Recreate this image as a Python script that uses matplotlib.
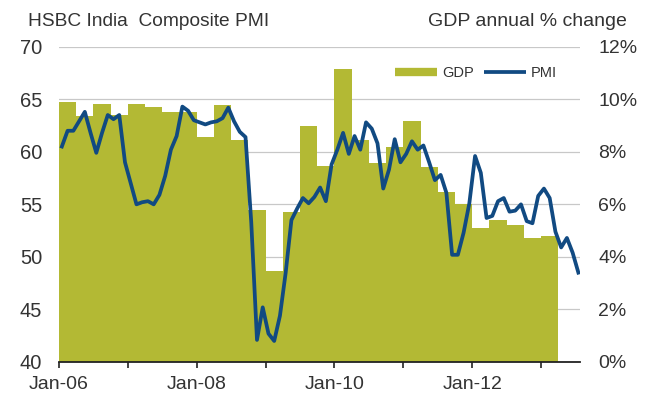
import numpy as np
import matplotlib
matplotlib.use("Agg")
import matplotlib.pyplot as plt
from matplotlib.lines import Line2D

plt.rcParams['font.family'] = ['Liberation Sans', 'DejaVu Sans']

# quarterly GDP growth, 2006Q1 .. 2013Q1 (%)
gdp_quarters = ["2006Q1", "2006Q2", "2006Q3", "2006Q4", "2007Q1", "2007Q2", "2007Q3", "2007Q4",
                "2008Q1", "2008Q2", "2008Q3", "2008Q4", "2009Q1", "2009Q2", "2009Q3", "2009Q4",
                "2010Q1", "2010Q2", "2010Q3", "2010Q4", "2011Q1", "2011Q2", "2011Q3", "2011Q4",
                "2012Q1", "2012Q2", "2012Q3", "2012Q4", "2013Q1"]
gdp_values = [9.9, 9.35, 9.8, 9.4, 9.8, 9.7, 9.5, 9.5,
              8.55, 9.78, 8.45, 5.77, 3.47, 5.71, 8.97, 7.45,
              11.15, 8.45, 7.57, 8.2, 9.17, 7.44, 6.47, 6.0,
              5.1, 5.4, 5.2, 4.7, 4.8]

# monthly composite PMI, Jan-06 .. Jul-13
pmi_values = [60.5, 62.0, 62.0, 62.9, 63.8, 61.8, 59.9, 61.8, 63.5, 63.1, 63.5, 59.0,
              57.0, 55.0, 55.2, 55.3, 55.0, 55.9, 57.7, 60.2, 61.5, 64.3, 63.9, 63.0,
              62.8, 62.6, 62.8, 62.9, 63.2, 64.2, 62.9, 61.9, 61.4, 53.3, 42.1, 45.2,
              42.7, 42.0, 44.4, 48.5, 53.5, 54.6, 55.6, 55.1, 55.7, 56.6, 55.3, 58.8,
              60.2, 61.8, 59.8, 61.5, 60.2, 62.8, 62.2, 60.8, 56.5, 58.3, 61.2, 59.0,
              59.8, 61.0, 60.2, 60.6, 59.0, 57.3, 57.8, 56.1, 50.2, 50.2, 52.3, 55.1,
              59.6, 58.0, 53.7, 53.9, 55.3, 55.6, 54.3, 54.4, 55.0, 53.4, 53.2, 55.8,
              56.5, 55.6, 52.4, 50.9, 51.8, 50.4, 48.5]

year_ticks = ["Jan-06", "Jan-08", "Jan-10", "Jan-12"]

bar_color = "#B3B934"
line_color = "#114A82"
text_color = "#333333"

fig = plt.figure(figsize=(6.54, 3.97), dpi=100)
ax = fig.add_axes([0.0902, 0.0882, 0.7968, 0.7942])
ax2 = ax.twinx()

# bars on the right axis, drawn underneath the PMI line
q_pos = np.arange(len(gdp_values)) * 3
ax2.bar(q_pos, gdp_values, width=3, align="edge", color=bar_color, linewidth=0)
ax2.set_ylim(0, 12)
ax2.set_yticks(np.arange(0, 13, 2))
ax2.set_yticklabels([f"{v}%" for v in range(0, 13, 2)])
ax2.set_axisbelow(True)
ax2.grid(axis="y", color="#C8C8C8", linewidth=0.9)

m_pos = np.arange(len(pmi_values)) + 0.5
ax.plot(m_pos, pmi_values, color=line_color, linewidth=2.7, solid_joinstyle="round")
ax.set_ylim(40, 70)
ax.set_yticks(np.arange(40, 71, 5))
ax.set_xlim(0, 90.8)
ax.set_xticks(np.arange(0, 73, 24))
ax.set_xticklabels(year_ticks)
ax.set_xticks(np.arange(12, 91, 24), minor=True)

ax.set_zorder(ax2.get_zorder() + 1)
ax.patch.set_visible(False)

for a in (ax, ax2):
    for s in ("top", "left", "right"):
        a.spines[s].set_visible(False)
ax2.spines["bottom"].set_visible(False)
ax.spines["bottom"].set_color("#222222")
ax.spines["bottom"].set_linewidth(1.3)

ax.tick_params(axis="y", length=0, pad=12, labelsize=14.5, labelcolor=text_color)
ax2.tick_params(axis="y", length=0, pad=13, labelsize=14, labelcolor=text_color)
ax.tick_params(axis="x", which="both", direction="out", length=4, width=1.2,
               color="#222222", pad=6, labelsize=14, labelcolor=text_color)

handles = [Line2D([], [], color=bar_color, linewidth=6, solid_capstyle="butt"),
           Line2D([], [], color=line_color, linewidth=2.7, solid_capstyle="butt")]
ax.legend(handles, ["GDP", "PMI"], ncol=2, frameon=False, loc="center",
          bbox_to_anchor=(0.80, 0.917), fontsize=10.5, handlelength=2.9,
          handletextpad=0.3, columnspacing=0.7, labelcolor=text_color)

fig.text(28 / 654, 1 - 21 / 397, "HSBC India  Composite PMI", fontsize=13.8,
         color=text_color, ha="left", va="center")
fig.text(627 / 654, 1 - 21 / 397, "GDP annual % change", fontsize=14,
         color=text_color, ha="right", va="center")

fig.savefig("out.png", dpi=100)
